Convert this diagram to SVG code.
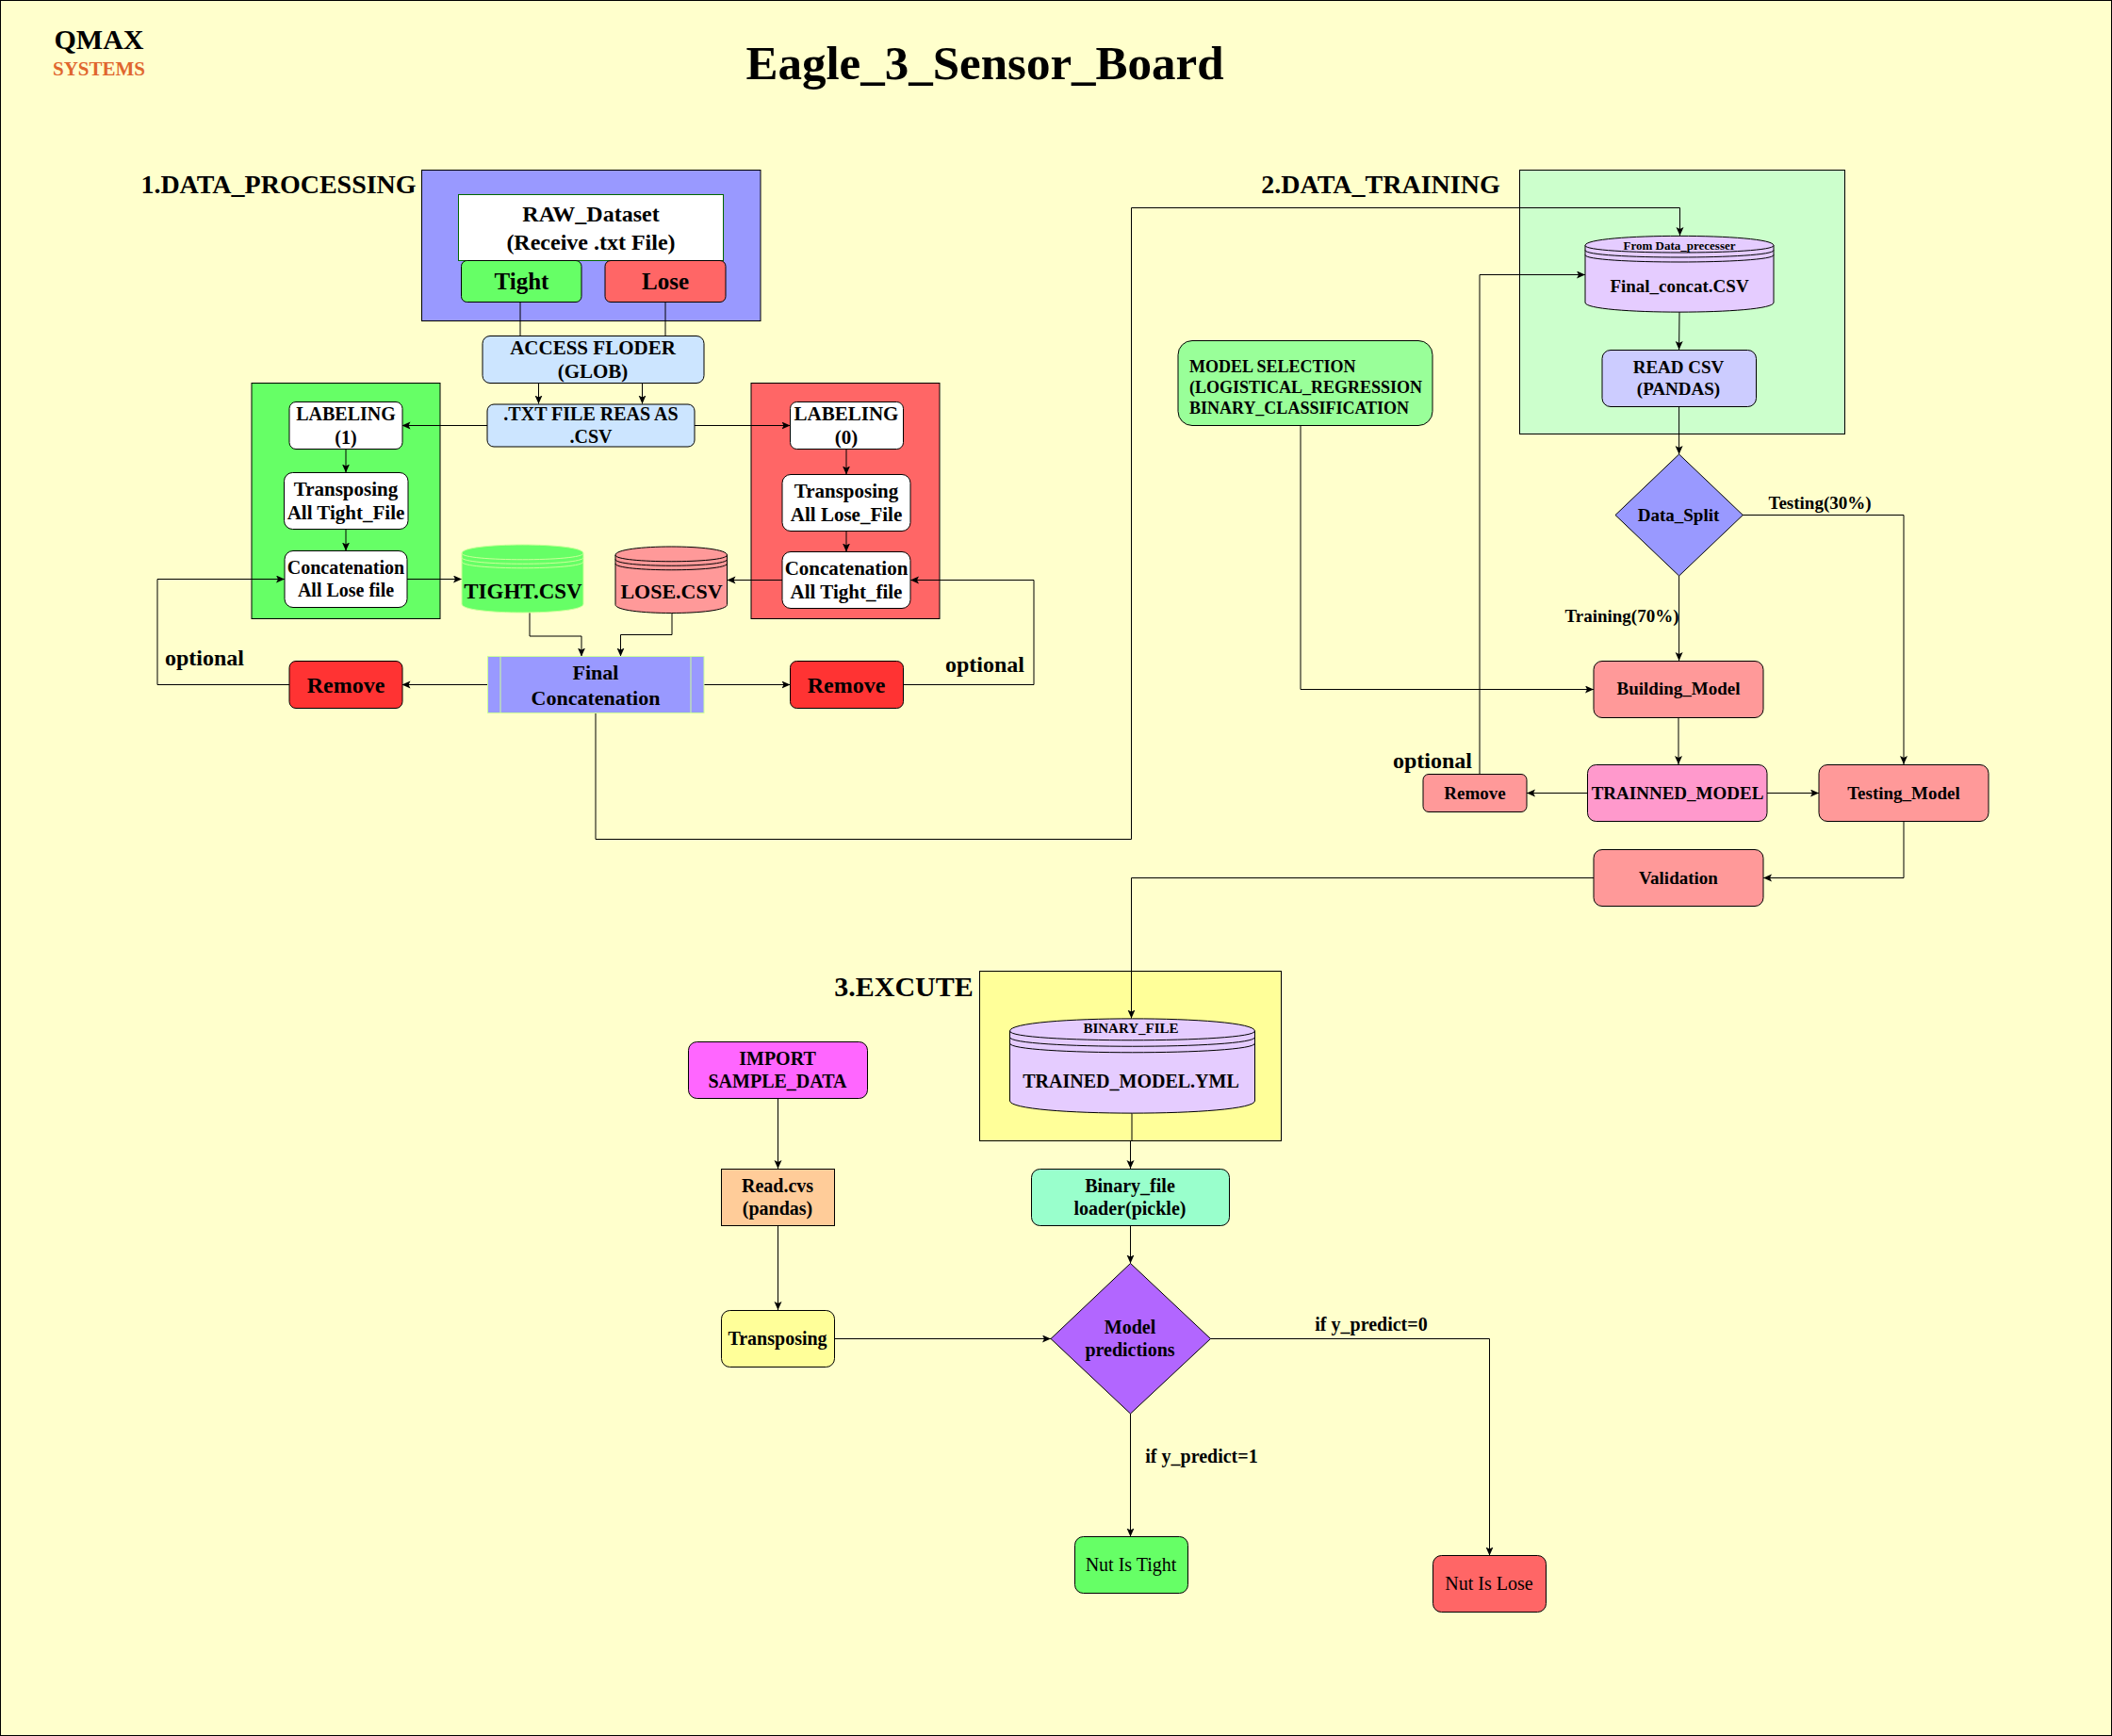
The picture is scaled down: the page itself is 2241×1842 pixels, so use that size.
<svg xmlns="http://www.w3.org/2000/svg" width="2241" height="1842" viewBox="0 0 2241 1842">
<style>
text{font-family:"Liberation Serif","Times New Roman",serif;font-weight:700;text-anchor:middle;fill:#000}
.n rect,.n path,.n polygon{stroke:#000;stroke-width:1}
.n path.w{fill:none}
#connectors path{fill:none;stroke:#000;stroke-width:1;marker-end:url(#a)}
#connectors path.p{marker-end:none}
.s18{font-size:18px}.s19{font-size:19px}.s20{font-size:20px}.s21{font-size:21px}.s22{font-size:22px}.s24{font-size:24px}.s28{font-size:28px}
.l{text-anchor:start}.r{font-weight:400}
.sec{stroke:#000;stroke-width:1}
</style>
<defs>
<marker id="a" markerUnits="userSpaceOnUse" markerWidth="10" markerHeight="10" refX="9" refY="4" orient="auto"><path d="M0,0L9,4L0,8L2,4Z" fill="#000"/></marker>
</defs>
<rect x="0.5" y="0.5" width="2240" height="1841" fill="#FFFFCC" stroke="#000"/>
<g id="labels">
<text x="105" y="52" style="font-size:30px">QMAX</text>
<text x="105" y="80" style="font-size:21px;fill:#E0662E">SYSTEMS</text>
<text x="1045" y="84" style="font-size:51px">Eagle_3_Sensor_Board</text>
<text x="295.5" y="205" class="s28">1.DATA_PROCESSING</text>
<text x="1465" y="205" class="s28">2.DATA_TRAINING</text>
<text x="959" y="1057" style="font-size:30px">3.EXCUTE</text>
</g>
<g id="sections">
<rect class="sec" x="447.5" y="180.5" width="359.5" height="160" fill="#9999FF"/>
<rect class="sec" x="267" y="406.5" width="200" height="250" fill="#66FF66"/>
<rect class="sec" x="797" y="406.5" width="200" height="250" fill="#FF6666"/>
<rect class="sec" x="1612.5" y="180.5" width="345" height="280" fill="#CCFFCC"/>
<rect class="sec" x="1039.5" y="1030.5" width="320" height="180" fill="#FFFF99"/>
</g>
<g id="connectors">
<path class="p" d="M552,320V356"/>
<path class="p" d="M706,320V356"/>
<path d="M571.5,406.5V428.5"/>
<path d="M681.5,406.5V428.5"/>
<path d="M517,451.5H426.5"/>
<path d="M736.5,451.5H838.5"/>
<path d="M367,476.5V501.5"/>
<path d="M367,561.5V584.5"/>
<path d="M898,476.5V503.5"/>
<path d="M898,563.5V585.5"/>
<path d="M432,614.5H490"/>
<path d="M830,615.5H771.5"/>
<path d="M562,650V675H617V696.5"/>
<path d="M713,650.5V673.5H658.5V696.5"/>
<path d="M517,726.5H426.5"/>
<path d="M747,726.5H838.5"/>
<path d="M307,726.5H167V614.5H302"/>
<path d="M958,726.5H1097V615.5H966"/>
<path d="M632,756V890.5H1200.5V220.5H1782.5V250"/>
<path d="M1782,331L1781.6,371"/>
<path d="M1781.6,431.5V482"/>
<path d="M1781.6,611V701"/>
<path d="M1849,546.5H2020V811"/>
<path d="M1380,451V731.5H1691"/>
<path d="M1570,821V291.5H1682"/>
<path d="M1781,761V811"/>
<path d="M1684.5,841.5H1620"/>
<path d="M1875,841.5H1930"/>
<path d="M2020,871V931.5H1871"/>
<path d="M1691,931.5H1200.5V1080.5"/>
<path d="M825.5,1165V1240"/>
<path d="M825.5,1300V1390"/>
<path d="M885.5,1420.5H1115"/>
<path d="M1201,1181V1210.5H1199.5V1240"/>
<path d="M1199.5,1300V1340.5"/>
<path d="M1284,1420.5H1580.5V1650.5"/>
<path d="M1199.5,1500V1630.5"/>
</g>
<g id="raw_dataset" class="n"><rect x="486.5" y="206.5" width="281" height="70" fill="#fff" style="stroke:#006600"/><text x="627" y="235" class="s24">RAW_Dataset</text><text x="627" y="264.5" class="s24">(Receive .txt File)</text></g>
<g id="tight" class="n"><rect x="489.5" y="276.5" width="127.5" height="44" rx="6" fill="#66FF66"/><text x="553.5" y="307" style="font-size:25px">Tight</text></g>
<g id="lose" class="n"><rect x="642" y="276.5" width="128" height="44" rx="6" fill="#FF6666"/><text x="706" y="307" style="font-size:25px">Lose</text></g>
<g id="access" class="n"><rect x="512" y="356.5" width="235" height="50" rx="8" fill="#CCE5FF"/><text x="629" y="376" class="s21">ACCESS FLODER</text><text x="629" y="401" class="s21">(GLOB)</text></g>
<g id="txt" class="n"><rect x="517" y="429" width="220" height="45" rx="7" fill="#CCE5FF"/><text x="627" y="446" class="s20">.TXT FILE REAS AS</text><text x="627" y="470" class="s20">.CSV</text></g>
<g id="label1" class="n"><rect x="307" y="426.5" width="120" height="50" rx="7" fill="#fff"/><text x="367" y="446" class="s20">LABELING</text><text x="367" y="471" class="s20">(1)</text></g>
<g id="trans1" class="n"><rect x="301.5" y="501.5" width="131.5" height="60" rx="9" fill="#fff"/><text x="367" y="526" class="s21">Transposing</text><text x="367" y="551" class="s21">All Tight_File</text></g>
<g id="concat1" class="n"><rect x="302" y="584.5" width="130" height="60" rx="9" fill="#fff"/><text x="367" y="609" class="s20">Concatenation</text><text x="367" y="633" class="s20">All Lose file</text></g>
<g id="label0" class="n"><rect x="838.5" y="426.5" width="120" height="50" rx="7" fill="#fff"/><text x="898" y="446" class="s21">LABELING</text><text x="898" y="471" class="s21">(0)</text></g>
<g id="trans0" class="n"><rect x="830" y="503.5" width="136" height="60" rx="9" fill="#fff"/><text x="898" y="528" class="s21">Transposing</text><text x="898" y="553" class="s21">All Lose_File</text></g>
<g id="concat0" class="n"><rect x="830" y="585.5" width="136" height="60" rx="9" fill="#fff"/><text x="898" y="610" class="s21">Concatenation</text><text x="898" y="635" class="s21">All Tight_file</text></g>
<g id="tight_csv" class="n"><path style="stroke:#CCFF99" fill="#66FF66" d="M490,587C490,575 619,575 619,587V641C619,653 490,653 490,641Z"/><path class="w" style="stroke:#CCFF99" d="M490,587C490,596 619,596 619,587M490,591.5C490,600.5 619,600.5 619,591.5M490,596C490,605 619,605 619,596"/><text x="555" y="635" style="font-size:23px">TIGHT.CSV</text></g>
<g id="lose_csv" class="n"><path fill="#FF9999" d="M653,589C653,577 771.5,577 771.5,589V641.5C771.5,653.5 653,653.5 653,641.5Z"/><path class="w" d="M653,589C653,598 771.5,598 771.5,589M653,593.5C653,602.5 771.5,602.5 771.5,593.5M653,598C653,607 771.5,607 771.5,598"/><text x="712.5" y="635" class="s22">LOSE.CSV</text></g>
<g id="final" class="n"><rect x="517.5" y="696.5" width="229.5" height="60" fill="#9999FF" style="stroke:#CCFF99"/><path class="w" d="M531,696.5V756.5M733,696.5V756.5" style="stroke:#CCFF99"/><text x="632" y="721" class="s22">Final</text><text x="632" y="748" class="s22">Concatenation</text></g>
<g id="remove_l" class="n"><rect x="307" y="701.5" width="120" height="50" rx="7" fill="#FF3333"/><text x="367" y="735" class="s24">Remove</text></g>
<g id="remove_r" class="n"><rect x="838.5" y="701.5" width="120" height="50" rx="7" fill="#FF3333"/><text x="898" y="735" class="s24">Remove</text></g>
<g id="opt_labels"><text x="217" y="706" class="s24">optional</text><text x="1045" y="713" class="s24">optional</text><text x="1520" y="815" class="s24">optional</text></g>
<g id="final_csv" class="n"><path fill="#E5CCFF" d="M1682,260.5C1682,247 1882,247 1882,260.5V321C1882,334.5 1682,334.5 1682,321Z"/><path class="w" d="M1682,260.5C1682,270.5 1882,270.5 1882,260.5M1682,265.5C1682,275.5 1882,275.5 1882,265.5M1682,270.5C1682,280.5 1882,280.5 1882,270.5"/><text x="1782" y="265" style="font-size:13px">From Data_precesser</text><text x="1782" y="310" class="s19">Final_concat.CSV</text></g>
<g id="read_csv" class="n"><rect x="1700" y="371.5" width="163.5" height="60" rx="9" fill="#CCCCFF"/><text x="1781" y="396" class="s19">READ CSV</text><text x="1781" y="419" class="s19">(PANDAS)</text></g>
<g id="data_split" class="n"><polygon points="1781.6,482 1849.3,546.5 1781.6,611 1714,546.5" fill="#9999FF"/><text x="1781" y="553" class="s19">Data_Split</text></g>
<g id="model_sel" class="n"><rect x="1250" y="361.5" width="270" height="90" rx="15" fill="#99FF99"/><text x="1262" y="394.5" class="s18 l">MODEL SELECTION</text><text x="1262" y="417" class="s18 l">(LOGISTICAL_REGRESSION</text><text x="1262" y="439" class="s18 l">BINARY_CLASSIFICATION</text></g>
<g id="building" class="n"><rect x="1691" y="701.5" width="180" height="60" rx="9" fill="#FF9999"/><text x="1781" y="737" class="s19">Building_Model</text></g>
<g id="trained" class="n"><rect x="1684.5" y="811.5" width="190.5" height="60" rx="9" fill="#FF99CC"/><text x="1780" y="848" class="s19">TRAINNED_MODEL</text></g>
<g id="testing" class="n"><rect x="1930" y="811.5" width="180" height="60" rx="9" fill="#FF9999"/><text x="2020" y="848" class="s19">Testing_Model</text></g>
<g id="remove_t" class="n"><rect x="1510" y="821.5" width="110" height="40" rx="6" fill="#FF9999"/><text x="1565" y="848" class="s19">Remove</text></g>
<g id="validation" class="n"><rect x="1691" y="901.5" width="180" height="60" rx="9" fill="#FF9999"/><text x="1781" y="938" class="s19">Validation</text></g>
<g id="edge_labels"><text x="1931" y="540" class="s19">Testing(30%)</text><text x="1721" y="660" class="s19">Training(70%)</text><text x="1455" y="1412" class="s20">if y_predict=0</text><text x="1275" y="1552" class="s20">if y_predict=1</text></g>
<g id="trained_yml" class="n"><path fill="#E5CCFF" d="M1071.5,1094C1071.5,1076.5 1331.5,1076.5 1331.5,1094V1168C1331.5,1185.5 1071.5,1185.5 1071.5,1168Z"/><path class="w" d="M1071.5,1094C1071.5,1107 1331.5,1107 1331.5,1094M1071.5,1100.5C1071.5,1113.5 1331.5,1113.5 1331.5,1100.5M1071.5,1107C1071.5,1120 1331.5,1120 1331.5,1107"/><text x="1200" y="1096" style="font-size:15px">BINARY_FILE</text><text x="1200" y="1154" class="s20">TRAINED_MODEL.YML</text></g>
<g id="import" class="n"><rect x="730.5" y="1105.5" width="190" height="60" rx="9" fill="#FF66FF"/><text x="825" y="1130" class="s20">IMPORT</text><text x="825" y="1154" class="s20">SAMPLE_DATA</text></g>
<g id="read_cvs" class="n"><rect x="765.5" y="1240.5" width="120" height="60" fill="#FFCC99"/><text x="825" y="1265" class="s20">Read.cvs</text><text x="825" y="1289" class="s20">(pandas)</text></g>
<g id="binary" class="n"><rect x="1094.5" y="1240.5" width="210" height="60" rx="9" fill="#99FFCC"/><text x="1199" y="1265" class="s20">Binary_file</text><text x="1199" y="1289" class="s20">loader(pickle)</text></g>
<g id="transposing" class="n"><rect x="765.5" y="1390.5" width="120" height="60" rx="9" fill="#FFFF99"/><text x="825" y="1427" class="s20">Transposing</text></g>
<g id="predict" class="n"><polygon points="1199.5,1340.5 1284.5,1420.5 1199.5,1500 1115,1420.5" fill="#B266FF"/><text x="1199" y="1415" class="s20">Model</text><text x="1199" y="1439" class="s20">predictions</text></g>
<g id="nut_tight" class="n"><rect x="1140.5" y="1630.5" width="120" height="60" rx="9" fill="#66FF66"/><text x="1200" y="1667" class="s20 r">Nut Is Tight</text></g>
<g id="nut_lose" class="n"><rect x="1520.5" y="1650.5" width="120" height="60" rx="9" fill="#FF6666"/><text x="1580" y="1687" class="s20 r">Nut Is Lose</text></g>
</svg>
